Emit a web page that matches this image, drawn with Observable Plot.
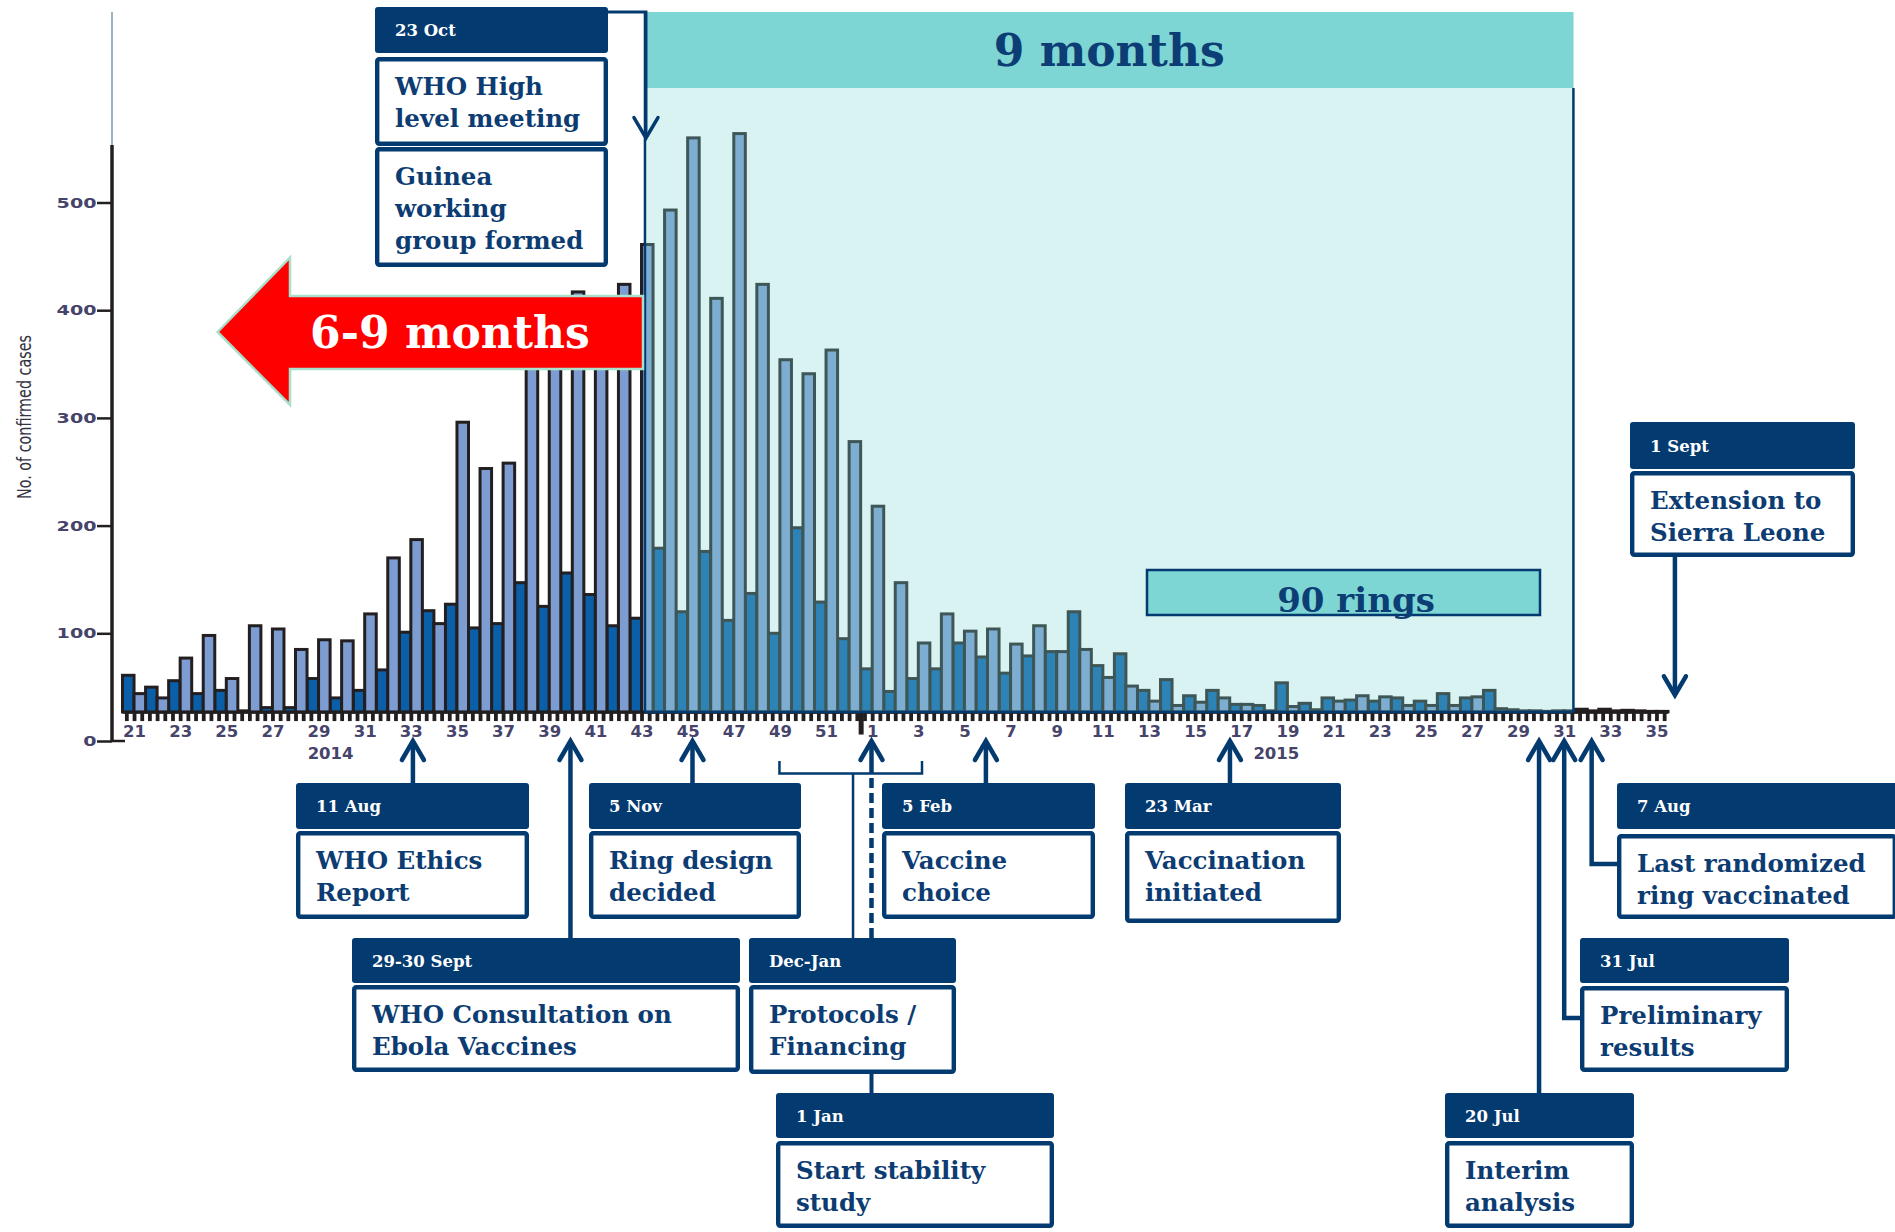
<!DOCTYPE html>
<html>
<head>
<meta charset="utf-8">
<script src="https://cdn.jsdelivr.net/npm/d3@7"></script>
<script src="https://cdn.jsdelivr.net/npm/@observablehq/plot@0.6"></script>
<style>
html, body { margin: 0; padding: 0; background: #ffffff; }
#chart svg { display: block; }
</style>
</head>
<body>
<div id="chart"></div>
<script>
// ---------------- DATA ----------------
// epidemiological weeks shown on the x axis (2014 wk21 .. 2015 wk35)
const weekNumbers = [21,22,23,24,25,26,27,28,29,30,31,32,33,34,35,36,37,38,39,40,41,42,43,44,45,46,47,48,49,50,51,52,
  1,2,3,4,5,6,7,8,9,10,11,12,13,14,15,16,17,18,19,20,21,22,23,24,25,26,27,28,29,30,31,32,33,34,35];
// confirmed cases, dark bars (left bar of each week), read against the y axis
const darkCases = [61,50,56,44,47,28,31,31,58,40,47,66,101,121,127,105,109,147,125,156,136,107,114,179,120,176,112,137,100,198,129,95,
  67,46,58,67,91,78,63,79,83,120,70,81,47,57,42,47,34,33,54,35,40,38,37,40,37,44,40,47,29,28,28,29.5,29.5,28.5,27.5];
// confirmed cases, light bars (right bar of each week), read against the y axis
const lightCases = [44,40,77,98,58,107,104,85,94,93,118,170,187,109,296,253,258,390,375,417,395,424,461,493,560,411,564,424,354,341,363,278,
  218,147,91,118,102,104,90,107,83,85,59,51,37,33,36,40,34,28,32,29,37,42,41,33,33,33,41,30,28,27.5,28,28,28,28,27.5];
const barBaseline = 27;               // axis value at which the bars start in the picture
const yTicks = [0,100,200,300,400,500];
const yearLabels = ["2014","2015"];
const yLabel = "No. of confirmed cases";

// annotation texts
const noteDates = ["11 Aug","29-30 Sept","5 Nov","Dec-Jan","1 Jan","5 Feb","23 Mar","20 Jul","31 Jul","7 Aug","1 Sept"];
const noteLines = [
  ["WHO Ethics","Report"],
  ["WHO Consultation on","Ebola Vaccines"],
  ["Ring design","decided"],
  ["Protocols /","Financing"],
  ["Start stability","study"],
  ["Vaccine","choice"],
  ["Vaccination","initiated"],
  ["Interim","analysis"],
  ["Preliminary","results"],
  ["Last randomized","ring vaccinated"],
  ["Extension to","Sierra Leone"]
];
const topDate = "23 Oct";
const topLines1 = ["WHO High","level meeting"];
const topLines2 = ["Guinea","working","group formed"];
const periodLabel = "9 months";
const arrowLabel = "6-9 months";
const ringsLabel = "90 rings";

// ---------------- LAYOUT (pixels / week-index positions) ----------------
const NAVY = "#033a70";
const TXT = "#0c3c72";
const SERIF = "'DejaVu Serif', 'Liberation Serif', serif";
const yearLabelPos = [8.5, 49.5];
// box layout per note: [x, width, headerY, headerH, bodyY, bodyH]
const boxLayout = [
  [296, 233, 783, 46, 831, 88],
  [352, 388, 938, 45, 985, 87],
  [589, 212, 783, 46, 831, 88],
  [749, 207, 938, 45, 985, 89],
  [776, 278, 1093, 45, 1141, 87],
  [882, 213, 783, 46, 831, 88],
  [1125, 216, 783, 46, 831, 92],
  [1445, 189, 1093, 45, 1141, 87],
  [1580, 209, 938, 45, 986, 86],
  [1617, 280, 783, 46, 834, 85],
  [1630, 225, 422, 47, 471, 86]
];

const rows = weekNumbers.map((w, i) => ({i, week: w, dark: darkCases[i], light: lightCases[i]}));
const yearStart = weekNumbers.indexOf(1);
const tickPos = d3.range(-0.5 + 1/6, rows.length - 0.5, 1/3);
const INK = "#231f20";
const AXT = "#46446a";

const plot = Plot.plot({
  width: 1895,
  height: 1232,
  marginLeft: 112,
  marginRight: 227,
  marginTop: 94.8,
  marginBottom: 491,
  style: {background: "#ffffff", color: INK},
  x: {domain: [-0.5, rows.length - 0.5], range: [122.5, 1668], axis: null},
  y: {domain: [0, 600], range: [741, 94.8]},
  marks: [
    Plot.rect(rows, {x1: d => d.i - 0.5, x2: d => d.i, y1: () => barBaseline, y2: "dark",
      fill: "#0b5fa9", stroke: INK, strokeWidth: 3}),
    Plot.rect(rows, {x1: d => d.i, x2: d => d.i + 0.5, y1: () => barBaseline, y2: "light",
      fill: "#7d9dd2", stroke: INK, strokeWidth: 3}),
    Plot.ruleY([barBaseline], {x1: () => -0.5, x2: () => rows.length - 0.5, stroke: INK, strokeWidth: 2.5}),
    Plot.ruleX(tickPos, {x: d => d, y1: () => barBaseline, y2: () => barBaseline - 8.5, stroke: INK, strokeWidth: 3.8}),
    Plot.ruleX([yearStart - 0.5], {x: d => d, y1: () => barBaseline, y2: () => barBaseline - 21, stroke: INK, strokeWidth: 5}),
    Plot.text(rows.filter(d => d.week % 2 === 1), {x: "i", y: () => 0, dy: -10, text: d => String(d.week),
      fontFamily: "DejaVu Sans", fontSize: 16.5, fontWeight: 600, fill: AXT, ariaLabel: "week-label"}),
    Plot.text(yearLabels, {x: (d, i) => yearLabelPos[i], y: () => 0, dy: 12, text: d => d,
      fontFamily: "DejaVu Sans", fontSize: 16.5, fontWeight: 600, fill: AXT, ariaLabel: "year-label"}),
    Plot.axisY({ticks: yTicks, tickSize: 15, tickPadding: 1, label: null, stroke: INK, strokeWidth: 2.5,
      fill: AXT, fontSize: 14.5, fontWeight: 600, tickFormat: d => String(d)})
  ]
});
document.getElementById("chart").appendChild(plot);

// ---------------- ANNOTATIONS ----------------
const xsc = plot.scale("x"), ysc = plot.scale("y");
const X = xsc.apply ? (v => xsc.apply(v)) : d3.scaleLinear(xsc.domain, xsc.range);
const Y = ysc.apply ? (v => ysc.apply(v)) : d3.scaleLinear(ysc.domain, ysc.range);
const svg = d3.select(plot);
svg.style("font-family", "DejaVu Sans");

// stretch axis labels to the wide face of the original
svg.selectAll('g[aria-label="week-label"] text').each(function() {
  const t = this.textContent; this.setAttribute("textLength", t.length * 13.8); this.setAttribute("lengthAdjust", "spacingAndGlyphs");
});
svg.selectAll('g[aria-label="year-label"] text').each(function() {
  this.setAttribute("textLength", 60); this.setAttribute("lengthAdjust", "spacingAndGlyphs");
});
svg.selectAll('g[aria-label="y-axis tick label"] text').each(function() {
  const t = this.textContent; this.setAttribute("textLength", t.length * 13.3); this.setAttribute("lengthAdjust", "spacingAndGlyphs");
});

const base = Y(barBaseline);
const g = svg.append("g").attr("text-anchor", "start");

// y axis line
g.append("line").attr("x1", 112).attr("x2", 112).attr("y1", 12).attr("y2", 145).attr("stroke", "#9bb4c4").attr("stroke-width", 2);
g.append("line").attr("x1", 112).attr("x2", 112).attr("y1", 145).attr("y2", Y(0) + 1).attr("stroke", INK).attr("stroke-width", 3.5);
g.append("line").attr("x1", 112).attr("x2", 125).attr("y1", Y(0)).attr("y2", Y(0)).attr("stroke", INK).attr("stroke-width", 2.5);
g.append("text").attr("transform", `translate(24,${417}) rotate(-90)`).attr("text-anchor", "middle")
  .attr("dominant-baseline", "central").attr("font-family", "'Liberation Sans Narrow','DejaVu Sans Condensed','Liberation Sans',sans-serif")
  .attr("font-size", 19).attr("fill", "#34333f").attr("textLength", 164).attr("lengthAdjust", "spacingAndGlyphs").text(yLabel);

// teal period
const tx0 = X(22.15), tx1 = X(62.4);
g.append("rect").attr("x", tx0).attr("y", 12).attr("width", tx1 - tx0).attr("height", base - 12)
  .attr("fill", "#7dd6d3").attr("fill-opacity", 0.3);
g.append("rect").attr("x", tx0).attr("y", 12).attr("width", tx1 - tx0).attr("height", 76).attr("fill", "#7dd6d3");
g.append("line").attr("x1", tx1).attr("x2", tx1).attr("y1", 88).attr("y2", base).attr("stroke", NAVY).attr("stroke-width", 2.5);
g.append("line").attr("x1", tx0).attr("x2", tx1).attr("y1", base).attr("y2", base).attr("stroke", NAVY).attr("stroke-width", 2.5);
g.append("line").attr("x1", tx0).attr("x2", tx0).attr("y1", 12).attr("y2", base).attr("stroke", NAVY).attr("stroke-width", 2.5);
g.append("text").attr("x", (tx0 + tx1) / 2).attr("y", 66).attr("text-anchor", "middle").attr("font-family", SERIF)
  .attr("font-weight", "bold").attr("font-size", 44).attr("fill", "#0d3d75").text(periodLabel);

// 90 rings box
g.append("rect").attr("x", 1147).attr("y", 570).attr("width", 393).attr("height", 45).attr("fill", "#7dd6d3")
  .attr("stroke", NAVY).attr("stroke-width", 2.5);
g.append("text").attr("x", 1356).attr("y", 612).attr("text-anchor", "middle").attr("font-family", SERIF)
  .attr("font-weight", "bold").attr("font-size", 34).attr("fill", "#0d3d75").text(ringsLabel);

// red arrow
g.append("polygon").attr("points", "217.5,332 290,257.5 290,296 643,296 643,369 290,369 290,405")
  .attr("fill", "#ff0000").attr("stroke", "#a9e0cc").attr("stroke-width", 2.5);
g.append("text").attr("x", 450).attr("y", 348).attr("text-anchor", "middle").attr("font-family", SERIF)
  .attr("font-weight", "bold").attr("font-size", 44).attr("fill", "#ffffff").text(arrowLabel);

// helpers
function header(x, y, w, h, txt) {
  g.append("rect").attr("x", x).attr("y", y).attr("width", w).attr("height", h).attr("rx", 3).attr("fill", NAVY);
  g.append("text").attr("x", x + 20).attr("y", y + h / 2 + 6).attr("text-anchor", "start").attr("font-family", SERIF)
    .attr("font-weight", "bold").attr("font-size", 16.5).attr("fill", "#ffffff").text(txt);
}
function body(x, y, w, h, lines) {
  g.append("rect").attr("x", x + 2.2).attr("y", y + 2.2).attr("width", w - 4.4).attr("height", h - 4.4).attr("rx", 2)
    .attr("fill", "#ffffff").attr("stroke", NAVY).attr("stroke-width", 4.4);
  lines.forEach((t, k) => {
    g.append("text").attr("x", x + 20).attr("y", y + 29 + k * 32 + 8.5).attr("text-anchor", "start").attr("font-family", SERIF)
      .attr("font-weight", "bold").attr("font-size", 24.5).attr("fill", TXT).text(t);
  });
}
function line(pts, w, dash) {
  const p = g.append("path").attr("d", d3.line()(pts)).attr("fill", "none").attr("stroke", NAVY)
    .attr("stroke-width", w).attr("stroke-linejoin", "miter");
  if (dash) p.attr("stroke-dasharray", dash);
  return p;
}
function headUp(x, y) { line([[x - 11, y + 19], [x, y], [x + 11, y + 19]], 4.5).attr("stroke-linecap", "round"); }
function headDown(x, y, s = 11, w = 4.5) { line([[x - s, y - s * 1.7], [x, y], [x + s, y - s * 1.7]], w).attr("stroke-linecap", "round"); }

const tipY = 741;
// connectors (drawn before boxes)
const arrowWeeks = [12.09, 18.92, 24.21, null, 31.97, 36.93, 47.51, 60.91, 62.0, 63.19, 66.8];
[0, 1, 2, 5, 6, 7].forEach(k => {
  const ax = X(arrowWeeks[k]);
  line([[ax, boxLayout[k][2]], [ax, tipY + 2]], 4.5);
  headUp(ax, tipY);
});
// 31 Jul and 7 Aug elbows
{
  const a = X(arrowWeeks[8]);
  line([[boxLayout[8][0] + 2, 1018], [a, 1018], [a, tipY + 2]], 4.5);
  headUp(a, tipY);
  const b = X(arrowWeeks[9]);
  line([[boxLayout[9][0] + 2, 864], [b, 864], [b, tipY + 2]], 4.5);
  headUp(b, tipY);
}
// 1 Jan dashed, Dec-Jan bracket
{
  const a = X(arrowWeeks[4]);
  line([[a, tipY + 2], [a, tipY + 22]], 4.5);
  line([[a, tipY + 22], [a, boxLayout[3][2]]], 4.5, "10,5");
  line([[a, boxLayout[3][4] + boxLayout[3][5]], [a, boxLayout[4][2]]], 4);
  headUp(a, tipY);
  const b0 = X(27.98), b1 = X(34.16), bc = X(31.17);
  line([[b0, 761], [b0, 773.5], [b1, 773.5], [b1, 761]], 2.5);
  line([[bc, 773.5], [bc, boxLayout[3][2]]], 2.5);
}
// 1 Sept down arrow
{
  const a = X(arrowWeeks[10]);
  const L = boxLayout[10];
  line([[a, L[4] + L[5]], [a, 695]], 4.5);
  headDown(a, 695);
}
// 23 Oct connector
line([[608, 12], [tx0 + 1, 12], [tx0 + 1, 138]], 3);
headDown(tx0 + 1, 138, 12, 3.5);

// boxes
boxLayout.forEach((L, k) => {
  const [x, w, hy, hh, by, bh] = L;
  header(x, hy, w, hh, noteDates[k]);
  body(x, by, w, bh, noteLines[k]);
});
header(375, 7, 233, 46, topDate);
body(375, 57, 233, 89, topLines1);
body(375, 147, 233, 120, topLines2);
</script>
</body>
</html>
